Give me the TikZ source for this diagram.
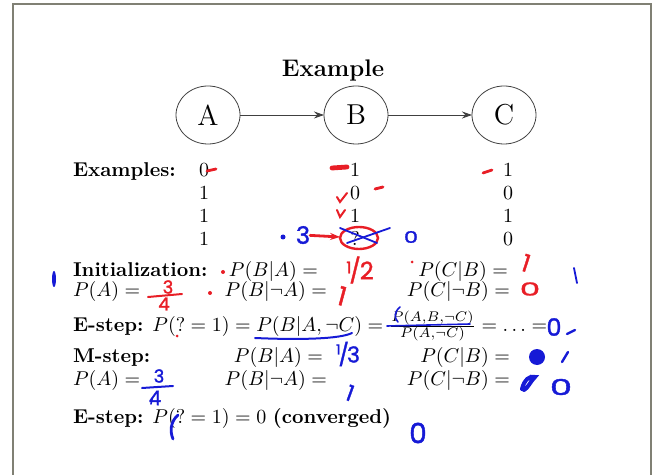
\documentclass[tikz,border=0pt]{standalone}
\usepackage{amsmath,amssymb}
\usepackage{fontspec}
\newfontfamily\hand{Poppins}[FakeBold=1.5]
\usetikzlibrary{arrows.meta,positioning,shapes.geometric}
\definecolor{penred}{RGB}{232,30,38}
\definecolor{penblue}{RGB}{22,26,214}
\definecolor{framegray}{RGB}{128,128,116}

\begin{document}
\begin{tikzpicture}[x=0.5pt, y=-0.5pt, >={Stealth[length=5pt,width=3.5pt]}, node distance=42pt,
  every node/.style={inner sep=0pt, outer sep=0pt},
  var/.style={draw=black!75, ellipse, minimum width=32pt, minimum height=29pt, font=\Large},
  val/.style={anchor=base},
  redpen/.style={draw=penred, line width=1.4pt, line cap=round},
  bluepen/.style={draw=penblue, line width=1.2pt, line cap=round},
  redhand/.style={text=penred, font=\hand},
  bluehand/.style={text=penblue, font=\hand}]
\useasboundingbox (0,0) rectangle (652,475);
\draw[framegray, line width=0.6pt] (13,475) -- (13,4) -- (651,4) -- (651,475);

% the network
\node[font=\large\bfseries, anchor=base] (title) at (333,77) {Example};
\node[var] (A) at (208,115) {A};
\node[var, right=of A] (B) {B};
\node[var, right=of B] (C) {C};
\draw[->, black!75] (A) -- (B);
\draw[->, black!75] (B) -- (C);

% data
\node[anchor=base west, font=\bfseries] (ex) at (73,177) {Examples:};
\foreach \a/\b/\c [count=\i] in {0/1/1, 1/0/0, 1/1/1, 1/?/0} {
  \node[val] (a\i) at (204,154+23*\i) {\a};
  \node[val] (b\i) at (355,154+23*\i) {\b};
  \node[val] (c\i) at (508,154+23*\i) {\c};
}

% initialization
\node[anchor=base west, font=\bfseries] (init) at (73,277) {Initialization:};
\node[anchor=base east] (iba) at (318,277) {$P(B|A) =$};
\node[anchor=base east] (icb) at (508,277) {$P(C|B) =$};
\node[anchor=base west] (ia) at (73,297) {$P(A) =$};
\node[anchor=base east] (ibna) at (327,297) {$P(B|\neg A) =$};
\node[anchor=base east] (icnb) at (510,297) {$P(C|\neg B) =$};

% E-step
\node[anchor=base west] (e1) at (73,331) {\textbf{E-step:} $P(?=1) = P(B|A,\neg C) = \frac{P(A,B,\neg C)}{P(A,\neg C)} = \ldots =$};

% M-step
\node[anchor=base west, font=\bfseries] (mstep) at (73,362) {M-step:};
\node[anchor=base east] (mba) at (323,362) {$P(B|A) =$};
\node[anchor=base east] (mcb) at (510,362) {$P(C|B) =$};
\node[anchor=base west] (ma) at (73,385) {$P(A) =$};
\node[anchor=base east] (mbna) at (327,385) {$P(B|\neg A) =$};
\node[anchor=base east] (mcnb) at (510,385) {$P(C|\neg B) =$};
\node[anchor=base west] (e2) at (73,423) {\textbf{E-step:} $P(?=1) = 0$ \textbf{(converged)}};

% red pen
\draw[redpen] (207,171) -- (216,169);
\draw[redpen, line width=2.4pt] (332,168) -- (347,167);
\draw[redpen, line width=1pt] (337,197) -- (340,202) -- (347,193);
\draw[redpen] (375,189) -- (383,187);
\draw[redpen, line width=1pt] (337,210) -- (340,217) -- (345,210);
\draw[redpen] (483,173) -- (492,170);
\node[draw=penred, line width=1.2pt, ellipse, minimum width=19pt, minimum height=11pt] (qmark) at (359,238) {};
\fill[penred] (223,272) circle (2);
\fill[penred] (210,293) circle (2);
\fill[penred] (412,262) circle (1.5);
\fill[penred] (177,336) circle (1.5);
\node[redhand, font=\hand\fontsize{12}{12}\selectfont] (rhalf) at (360,270) {\raisebox{3pt}{\fontsize{8}{8}\selectfont 1}\kern-1pt/\kern-0.5pt2};
\node[redhand, font=\hand\fontsize{12}{12}\selectfont, rotate=-18] (rone) at (526,263) {1};
\node[redhand, font=\hand\fontsize{9}{9}\selectfont] (rthree) at (168,287) {3};
\draw[redpen, line width=1pt] (148,297) -- (182,294);
\node[redhand, font=\hand\fontsize{9}{9}\selectfont] (rfour) at (164,304) {4};
\node[redhand, font=\hand\fontsize{13}{13}\selectfont, rotate=-15] (rtwo) at (342,296) {1};
\node[redhand, font=\hand\fontsize{9}{9}\selectfont] (rzero) at (530,289) {\scalebox{1.8}[1]{0}};

% blue pen
\fill[penblue] (283,237) circle (2.5);
\node[bluehand, font=\hand\fontsize{12}{12}\selectfont] (bthree) at (303,235) {3};
\draw[redpen, ->] (bthree) -- (qmark);
\draw[bluepen, line width=0.9pt] (340,228) -- (377,243);
\draw[bluepen, line width=0.9pt] (347,243) -- (390,228);
\node[bluehand, font=\hand\fontsize{8}{8}\selectfont] (bo) at (411,237) {\scalebox{1.4}[1]{0}};
\fill[penblue] (54,279) ellipse (2 and 8);
\draw[bluepen, line width=0.9pt] (574,268) -- (577,283);
\draw[bluepen, line width=1pt] (255,338) .. controls (300,340) and (340,339) .. (352,333);
\draw[bluepen, line width=0.8pt] (387,326) -- (470,324);
\draw[bluepen, line width=0.8pt] (400,307) .. controls (394,312) and (394,318) .. (398,322);
\node[bluehand, font=\hand\fontsize{12}{12}\selectfont] (bzero) at (554,327) {0};
\draw[bluepen] (567,334) -- (575,330);
\node[bluehand, font=\hand\fontsize{11}{11}\selectfont] (bthird) at (348,354) {\raisebox{4pt}{\fontsize{7}{7}\selectfont 1}\kern-1pt/\kern-1pt3};
\fill[penblue] (537,357) circle (8);
\draw[bluepen] (562,362) -- (568,352);
\node[bluehand, font=\hand\fontsize{9}{9}\selectfont] (bthr) at (159,376) {3};
\draw[bluepen, line width=1pt] (142,388) -- (173,386);
\node[bluehand, font=\hand\fontsize{10}{10}\selectfont] (bfour) at (155,398) {4};
\node[bluehand, font=\hand\fontsize{11}{11}\selectfont, rotate=-20] (bone) at (350,393) {1};
\draw[bluepen, line width=2pt] (522,389) .. controls (524,380) and (530,375) .. (535,377) .. controls (530,382) and (528,388) .. (524,390);
\node[bluehand, font=\hand\fontsize{11}{11}\selectfont] (bzer) at (561,387) {\scalebox{1.6}[1]{0}};
\draw[bluepen, line width=1.4pt] (178,415) .. controls (170,422) and (170,432) .. (173,439);
\draw[bluepen, line width=0.8pt] (152,399) -- (151,404);
\node[bluehand, font=\hand\fontsize{14}{14}\selectfont] (bfinal) at (418,433) {0};
\end{tikzpicture}
\end{document}
